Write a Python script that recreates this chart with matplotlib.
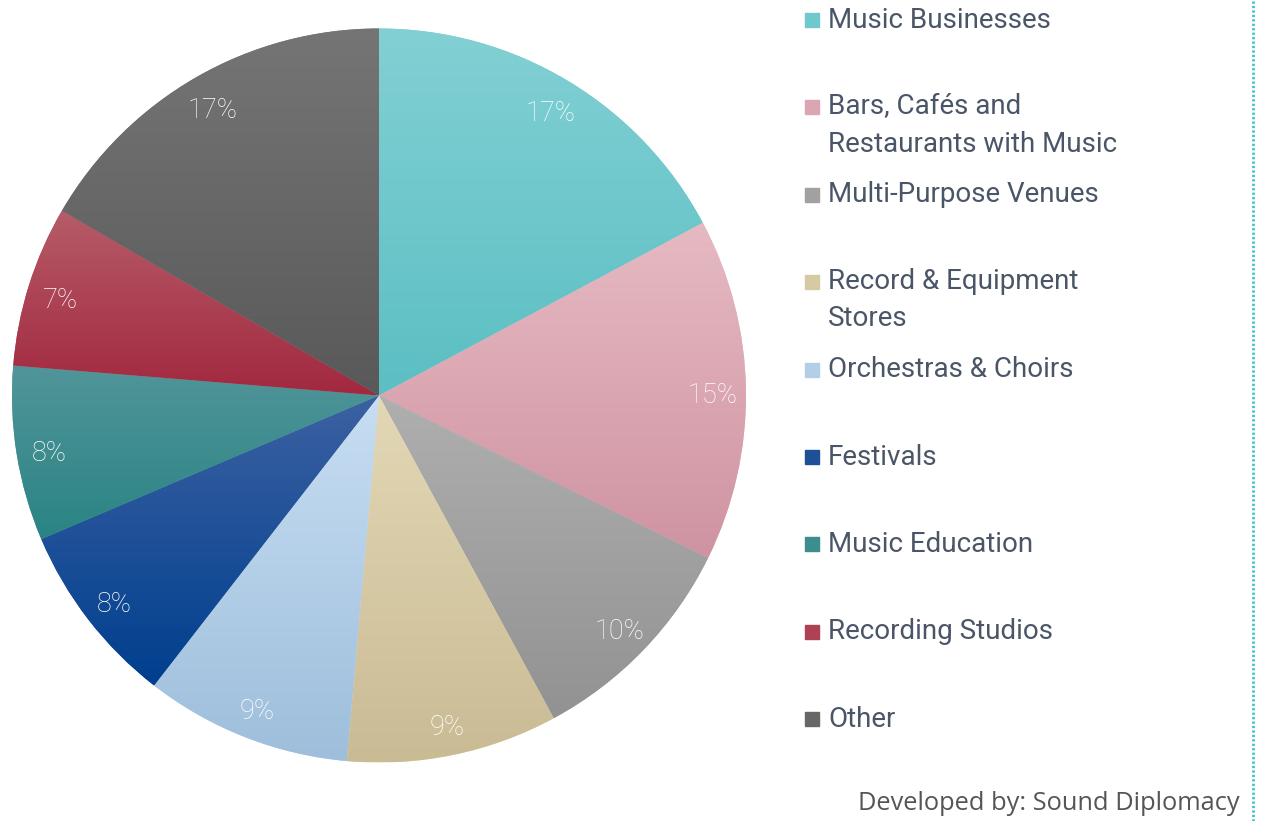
import matplotlib
matplotlib.use("Agg")
import matplotlib.pyplot as plt
import numpy as np
from matplotlib.colors import to_rgb

labels = ["Music Businesses", "Bars, Cafés and\nRestaurants with Music", "Multi-Purpose Venues",
          "Record & Equipment\nStores", "Orchestras & Choirs", "Festivals", "Music Education",
          "Recording Studios", "Other"]
shares = [17.2, 15.1, 9.8, 9.3, 9.1, 8.1, 7.7, 7.1, 16.6]

top_colors = ["#82d0d4", "#e6bac3", "#afafaf", "#e3d8b6", "#c7def3", "#3c61a2", "#519599", "#b65c69", "#757575"]
bottom_colors = ["#5bbfc3", "#cf93a1", "#929292", "#c9bb94", "#9ebedb", "#003f8e", "#2a8484", "#a2283f", "#595959"]

W, H = 1261, 821
fig = plt.figure(figsize=(W / 100, H / 100), dpi=100)

cx, cy, r = 379, 395.5, 367
ax = fig.add_axes([(cx - r) / W, (H - cy - r) / H, 2 * r / W, 2 * r / H])

wedges, _, autotexts = ax.pie(shares, startangle=90, counterclock=False, radius=1,
                              autopct="%.0f%%", pctdistance=0.91,
                              colors=[to_rgb(c) for c in top_colors],
                              textprops=dict(color="white", fontsize=19.5, family="Roboto",
                                             fontweight="light"))

# vertical gradient inside every slice
for w, c1, c2 in zip(wedges, top_colors, bottom_colors):
    th = np.radians(np.linspace(w.theta1, w.theta2, 100))
    xs = np.concatenate([[0], np.cos(th)])
    ys = np.concatenate([[0], np.sin(th)])
    t = np.linspace(0, 1, 256)[:, None]
    grad = (1 - t) * np.array(to_rgb(c1)) + t * np.array(to_rgb(c2))
    im = ax.imshow(grad[:, None, :], extent=[xs.min(), xs.max(), ys.min(), ys.max()],
                   aspect="auto", zorder=1.5, interpolation="bilinear")
    im.set_clip_path(w)
for t_ in autotexts:
    t_.set_zorder(3)
    x_, y_ = t_.get_position()
    t_.set_position((x_, y_ - 0.013))
ax.set_xlim(-1, 1)
ax.set_ylim(-1, 1)
ax.set_aspect("equal")
ax.axis("off")

# legend
text_col = "#4a5667"
y0, step = 20, 87.4
for i, (lab, c1, c2) in enumerate(zip(labels, top_colors, bottom_colors)):
    y = y0 + i * step
    mid = 0.5 * np.array(to_rgb(c1)) + 0.5 * np.array(to_rgb(c2))
    fig.patches.append(plt.Rectangle((805 / W, (H - y - 7) / H), 14 / W, 14 / H,
                                     transform=fig.transFigure, color=mid, figure=fig))
    yc = y + 18 if "\n" in lab else y
    fig.text(828 / W, (H - yc) / H, lab, fontsize=20, family="Roboto", color=text_col,
             va="center", linespacing=1.5)

fig.text(1240 / W, (H - 803) / H, "Developed by: Sound Diplomacy", fontsize=18.3,
         family="Open Sans", color="#555555", ha="right", va="center")

fig.add_artist(plt.Line2D([1253 / W, 1253 / W], [0, 1], transform=fig.transFigure,
                          color="#3cc4c8", lw=2, linestyle=(0, (0.8, 0.8))))

fig.savefig("out.png", dpi=100)
